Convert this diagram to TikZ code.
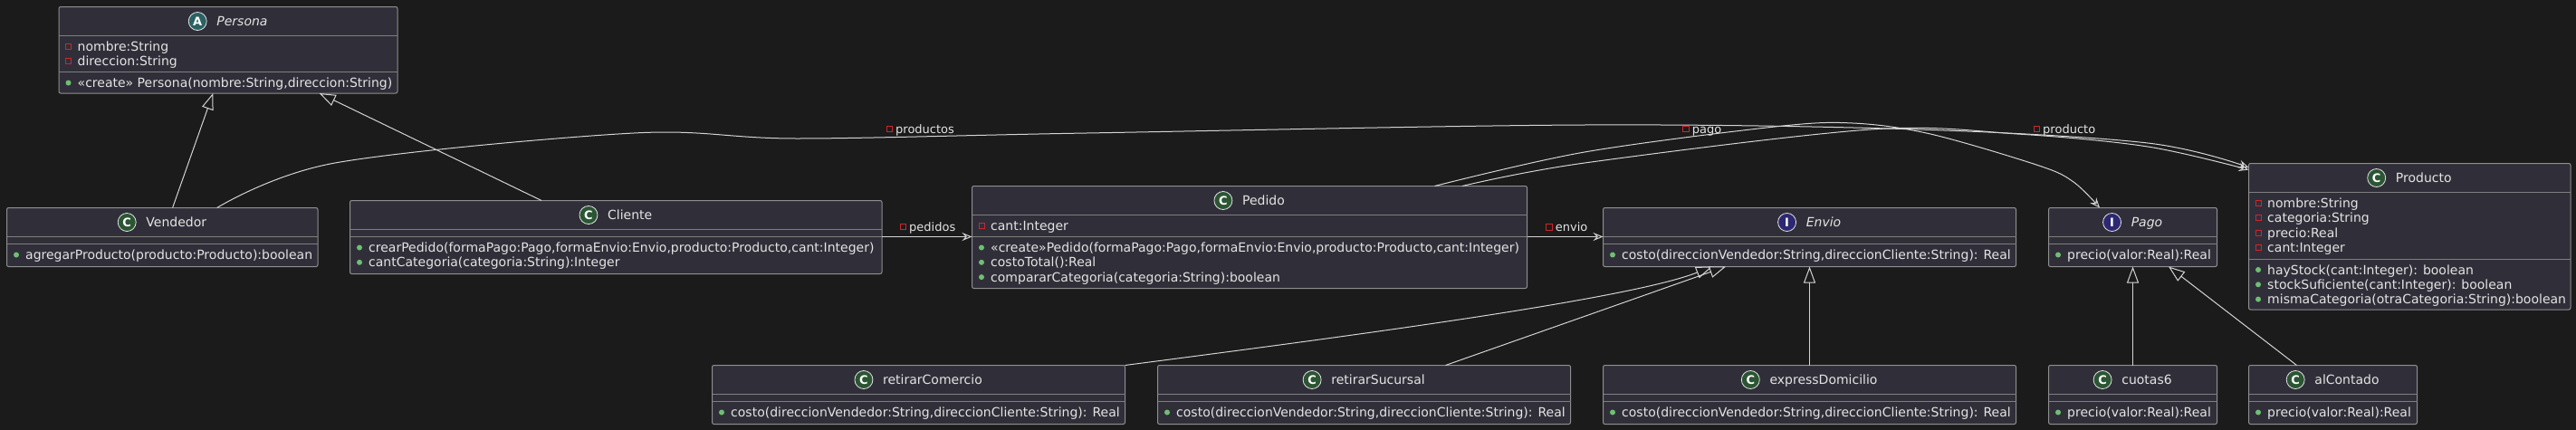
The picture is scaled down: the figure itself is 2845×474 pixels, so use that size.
\documentclass[tikz,border=0pt]{standalone}
\usepackage{fontspec}
\setmainfont{DejaVu Sans}
\usetikzlibrary{arrows.meta,calc}
\definecolor{bgc}{HTML}{1B1B1B}
\definecolor{boxf}{HTML}{302F39}
\definecolor{boxd}{HTML}{8E8E8E}
\definecolor{sepc}{HTML}{7E7E7E}
\definecolor{txt}{HTML}{E4E4E4}
\definecolor{lnc}{HTML}{D4D4D4}
\definecolor{prvc}{HTML}{C8282F}
\definecolor{pubc}{HTML}{6FBF73}
\definecolor{cfill}{HTML}{2B5533}
\definecolor{afill}{HTML}{2A6162}
\definecolor{ifill}{HTML}{2D2872}
\tikzset{
 clsbox/.style={draw=boxd, fill=boxf, rounded corners=2pt, line width=1pt, inner sep=0pt, outer sep=0pt, anchor=north west},
 sepline/.style={draw=sepc, line width=1pt},
 ttl/.style={text=txt, inner sep=0pt, font=\fontsize{14}{16}\selectfont},
 circ/.style={circle, draw=white!75!boxd, line width=0.8pt, minimum size=20pt, inner sep=0pt, text=white, font=\bfseries\fontsize{13}{13}\selectfont},
 mem/.style={text=txt, inner sep=0pt, anchor=base west, font=\fontsize{14}{16}\selectfont},
 lbl/.style={text=txt, inner sep=0pt, anchor=base west, font=\fontsize{13}{15}\selectfont},
 prvm/.style={draw=prvc, line width=1pt},
 pubm/.style={fill=pubc},
 inh/.style={draw=lnc, line width=1pt, -{Triangle[length=18pt, width=13pt, fill=bgc]}},
 assoc/.style={draw=lnc, line width=1pt, -{Stealth[length=11pt, width=9pt, inset=4pt, open]}},
}
\newcommand\ucls[5]{\node[clsbox, minimum width=#4pt, minimum height=#5pt] (#1) at (#2,#3) {};}
\newcommand\usep[2]{\draw[sepline] ($(#1.north west)+(0,#2)$) -- ($(#1.north east)+(0,#2)$);}
\newcommand\uttl[4]{%
 \node[ttl, anchor=base] (#1-t) at ($(#1.north)+(15.5,21)$) {#4};
 \node[circ, fill=#3] (#1-c) at ($(#1-t.base west)+(-21,-5)$) {#2};}
\newcommand\uprv[3]{\node[mem] at ($(#1.north west)+(20.5,#2)$) {#3};
 \draw[prvm] ($(#1.north west)+(7.5,#2)+(0,-8)$) rectangle +(6,6);}
\newcommand\upub[3]{\node[mem] at ($(#1.north west)+(20.5,#2)$) {#3};
 \fill[pubm] ($(#1.north west)+(10.5,#2)+(0,-5)$) circle (3pt);}
\newcommand\ulbl[4]{\node[lbl] (#1) at (#2,#3) {#4};
 \draw[prvm] ($(#1.base west)+(-10,-8)$) rectangle +(6.5,6.5);}
\begin{document}
\begin{tikzpicture}[x=1pt,y=-1pt]
\useasboundingbox (0,0) rectangle (2845,474);
\fill[bgc] (-10,-10) rectangle (2855,484);

% Persona
\ucls{pers}{65}{7.5}{374}{95.5}
\usep{pers}{32}\usep{pers}{72}
\uttl{pers}{A}{afill}{\itshape Persona}
\uprv{pers}{49}{nombre:String}
\uprv{pers}{65.3}{direccion:String}
\upub{pers}{89}{«create» Persona(nombre:String,direccion:String)}

% Vendedor
\ucls{vend}{7.5}{229.5}{343.5}{65}
\usep{vend}{32}\usep{vend}{40}
\uttl{vend}{C}{cfill}{Vendedor}
\upub{vend}{57}{agregarProducto(producto:Producto):boolean}

% Cliente
\ucls{cli}{386.5}{221.5}{587.5}{81}
\usep{cli}{32}\usep{cli}{40}
\uttl{cli}{C}{cfill}{Cliente}
\upub{cli}{57}{crearPedido(formaPago:Pago,formaEnvio:Envio,producto:Producto,cant:Integer)}
\upub{cli}{73.3}{cantCategoria(categoria:String):Integer}

% Pedido
\ucls{ped}{1073.5}{205.5}{613}{113}
\usep{ped}{32}\usep{ped}{56}
\uttl{ped}{C}{cfill}{Pedido}
\uprv{ped}{49}{cant:Integer}
\upub{ped}{73}{«create»Pedido(formaPago:Pago,formaEnvio:Envio,producto:Producto,cant:Integer)}
\upub{ped}{89.3}{costoTotal():Real}
\upub{ped}{105.6}{compararCategoria(categoria:String):boolean}

% Envio
\ucls{env}{1770.5}{229.5}{456}{65}
\usep{env}{32}\usep{env}{40}
\uttl{env}{I}{ifill}{\itshape Envio}
\upub{env}{57}{costo(direccionVendedor:String,direccionCliente:String): Real}

% Pago
\ucls{pago}{2262.5}{229.5}{186}{65}
\usep{pago}{32}\usep{pago}{40}
\uttl{pago}{I}{ifill}{\itshape Pago}
\upub{pago}{57}{precio(valor:Real):Real}

% Producto
\ucls{prod}{2483.5}{180.5}{355.5}{161.5}
\usep{prod}{32}\usep{prod}{105.5}
\uttl{prod}{C}{cfill}{Producto}
\uprv{prod}{49}{nombre:String}
\uprv{prod}{65.3}{categoria:String}
\uprv{prod}{81.6}{precio:Real}
\uprv{prod}{97.9}{cant:Integer}
\upub{prod}{122.5}{hayStock(cant:Integer): boolean}
\upub{prod}{138.8}{stockSuficiente(cant:Integer): boolean}
\upub{prod}{155.1}{mismaCategoria(otraCategoria:String):boolean}

% bottom row
\ucls{rc}{786.5}{403.5}{456}{65}
\usep{rc}{32}\usep{rc}{40}
\uttl{rc}{C}{cfill}{retirarComercio}
\upub{rc}{57}{costo(direccionVendedor:String,direccionCliente:String): Real}

\ucls{rs}{1278.5}{403.5}{456}{65}
\usep{rs}{32}\usep{rs}{40}
\uttl{rs}{C}{cfill}{retirarSucursal}
\upub{rs}{57}{costo(direccionVendedor:String,direccionCliente:String): Real}

\ucls{ed}{1770.5}{403.5}{456}{65}
\usep{ed}{32}\usep{ed}{40}
\uttl{ed}{C}{cfill}{expressDomicilio}
\upub{ed}{57}{costo(direccionVendedor:String,direccionCliente:String): Real}

\ucls{cu}{2262.5}{403.5}{186}{65}
\usep{cu}{32}\usep{cu}{40}
\uttl{cu}{C}{cfill}{cuotas6}
\upub{cu}{57}{precio(valor:Real):Real}

\ucls{al}{2483.5}{403.5}{186}{65}
\usep{al}{32}\usep{al}{40}
\uttl{al}{C}{cfill}{alContado}
\upub{al}{57}{precio(valor:Real):Real}

% inheritance
\draw[inh] ($(vend.north west)+(183.1,0)$) -- ($(pers.south west)+(170.3,0)$);
\draw[inh] ($(cli.north west)+(211.5,0)$) -- ($(pers.south west)+(287.7,0)$);
\draw[inh] (rc.north east) .. controls +(258,-33.5) and +(-91,35.7) .. ($(env.south west)+(120.5,0)$);
\draw[inh] ($(rs.north west)+(318,0)$) -- ($(env.south west)+(135.5,0)$);
\draw[inh] (ed.north) -- (env.south);
\draw[inh] (cu.north) -- (pago.south);
\draw[inh] ($(al.north west)+(53,0)$) -- ($(pago.south west)+(132.5,0)$);

% associations
\draw[assoc] ($(cli.north east)+(0,40)$) -- ($(ped.north west)+(0,56)$);
\ulbl{lpedidos}{1004}{255}{pedidos}
\draw[assoc] ($(ped.north east)+(0,56)$) -- ($(env.north west)+(0,32)$);
\ulbl{lenvio}{1717.6}{255.7}{envio}

\coordinate (vA) at ($(vend.north west)+(232.2,0)$);
\coordinate (prA) at ($(prod.north west)+(0,4.5)$);
\coordinate (pdA) at ($(ped.north west)+(511,0)$);
\coordinate (pgA) at ($(pago.north west)+(56.5,0)$);
\coordinate (pdB) at ($(ped.north west)+(541.5,0)$);
\coordinate (prB) at ($(prod.north west)+(0,7)$);

\draw[assoc] plot[smooth, tension=0.55] coordinates {(vA) (370,180) (700,147) (880,153) (1200,147) (1750,138) (2118,143) (2372,158) (prA)};
\ulbl{lproductos}{989}{147}{productos}
\draw[assoc] plot[smooth, tension=0.55] coordinates {(pdA) (1750,168) (1960,140) (2046,136) (2132,148) (2252,183) (2290,201) (pgA)};
\ulbl{lpago}{1868.7}{147}{pago}
\draw[assoc] plot[smooth, tension=0.55] coordinates {(pdB) (1750,180) (2066,143) (2228,148) (2372,162) (prB)};
\ulbl{lproducto}{2256}{147}{producto}
\end{tikzpicture}
\end{document}
